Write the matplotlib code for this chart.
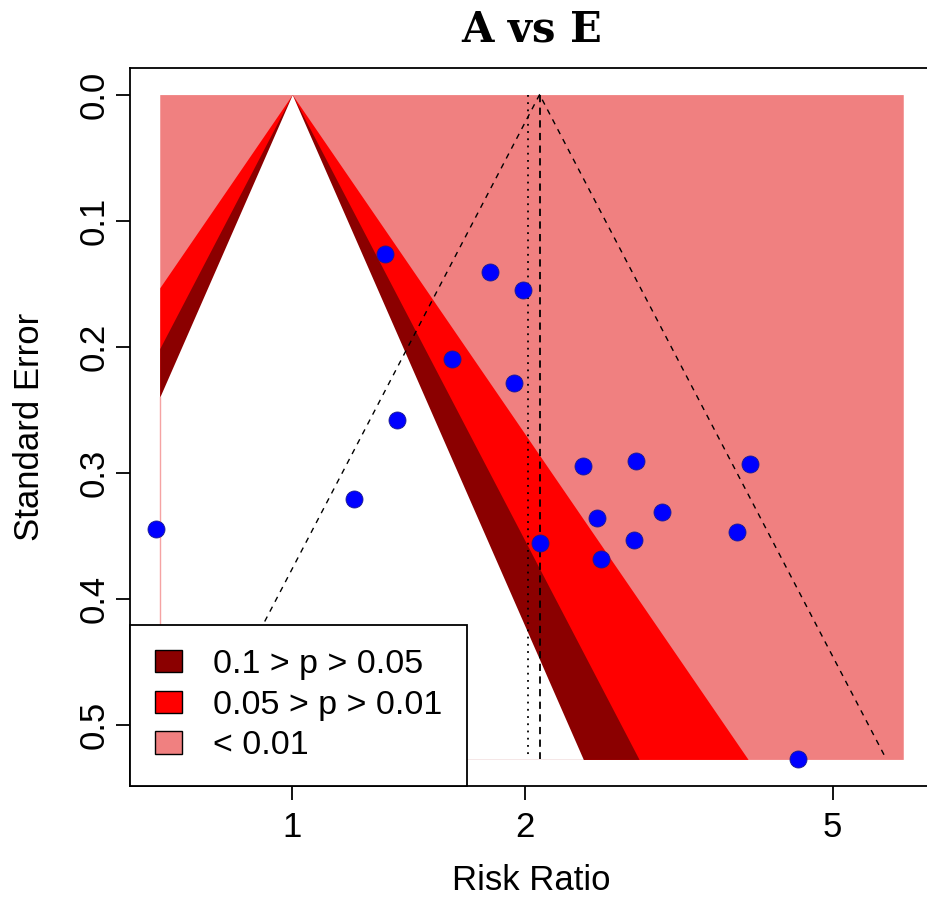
import matplotlib.pyplot as plt
import numpy as np
from matplotlib.patches import Patch

# study estimates (risk ratio) and standard errors
rr = np.array([0.667, 1.317, 1.800, 1.986, 1.608, 1.933, 1.365, 1.201, 2.089,
               2.379, 2.785, 3.914, 2.480, 3.010, 2.766, 2.505, 3.762, 4.51])
se = np.array([0.3444, 0.1264, 0.1406, 0.1548, 0.2093, 0.2283, 0.2583, 0.3207, 0.3555,
               0.2944, 0.2907, 0.2930, 0.3357, 0.3308, 0.3533, 0.3681, 0.3465, 0.527])

est_rr = 2.089      # pooled estimate (dashed)
ref_rr = 2.016      # reference line (dotted)
shade_rr = [0.674, 6.17]   # x range of contour shading

z_vals = [2.576, 1.960, 1.645]
fill_cols = ['red', 'darkred', 'white']
leg_cols = ['darkred', 'red', 'lightcoral']
leg_labels = ['0.1 > p > 0.05', '0.05 > p > 0.01', '< 0.01']
xticks = [1, 2, 5]
yticks = [0.0, 0.1, 0.2, 0.3, 0.4, 0.5]

plt.rcParams['font.family'] = ['Liberation Sans', 'DejaVu Sans']

fig = plt.figure(figsize=(9.27, 8.97), dpi=100)
ax = fig.add_axes([130/927, (897-786)/897, (933-130)/927, (786-68)/897])

lo, hi = np.log(shade_rr[0]), np.log(shade_rr[1])
smax = se.max()
s = np.linspace(0, smax, 600)

# contour regions
ax.fill_betweenx(s, np.exp(lo), np.exp(hi), color='lightcoral', lw=0)
for zz, c in zip(z_vals, fill_cols):
    ax.fill_betweenx(s, np.exp(np.clip(-zz*s, lo, hi)), np.exp(np.clip(zz*s, lo, hi)),
                     color=c, lw=0)
# thin border of the outer region showing through on the left
ax.plot([shade_rr[0], shade_rr[0]], [-lo/1.645, smax], color='#f5a3a3', lw=1.0)

# funnel around pooled estimate
le = np.log(est_rr)
ax.plot([np.exp(le - 1.96*smax), est_rr, np.exp(le + 1.96*smax)], [smax, 0, smax],
        color='black', lw=1.0, dashes=(4, 4))
ax.plot([est_rr, est_rr], [0, smax], color='black', lw=1.3, dashes=(4, 3))
ax.plot([ref_rr, ref_rr], [0, smax], color='black', lw=1.3, dashes=(1, 3))

ax.scatter(rr, se, s=150, c='blue', edgecolors='#1c1c8c', linewidths=0.6, zorder=5)

ax.set_xscale('log')
span = hi - lo
ax.set_xlim(np.exp(lo - 0.04*span), np.exp(hi + 0.04*span))
ax.set_ylim(smax*1.04, -smax*0.04)
ax.set_xticks(xticks)
ax.set_xticklabels([str(t) for t in xticks])
ax.xaxis.set_minor_locator(plt.NullLocator())
ax.set_yticks(yticks)
ax.set_yticklabels(['%.1f' % t for t in yticks], rotation=90, va='center')
ax.tick_params(labelsize=25, length=10, width=1.3, pad=8)
ax.tick_params(axis='y', pad=4)
for sp in ax.spines.values():
    sp.set_linewidth(1.3)

handles = [Patch(facecolor=c, edgecolor='black', lw=1.0) for c in leg_cols]
leg = ax.legend(handles, leg_labels, loc='lower left', borderaxespad=0, fancybox=False,
                edgecolor='black', framealpha=1, fontsize=24.5, handlelength=0.82,
                handleheight=0.62, handletextpad=0.9, labelspacing=0.28, borderpad=0.72)
leg.get_frame().set_linewidth(1.3)
leg.set_zorder(10)

fig.text(531.5/927, 1 - 30/897, 'A vs E', ha='center', va='center', fontsize=30,
         family='DejaVu Serif', weight='bold')
fig.text(531.5/927, 1 - 880/897, 'Risk Ratio', ha='center', va='center', fontsize=25)
fig.text(30/927, 1 - 427/897, 'Standard Error', ha='center', va='center', fontsize=25,
         rotation=90)

fig.savefig('out.png', dpi=100)
